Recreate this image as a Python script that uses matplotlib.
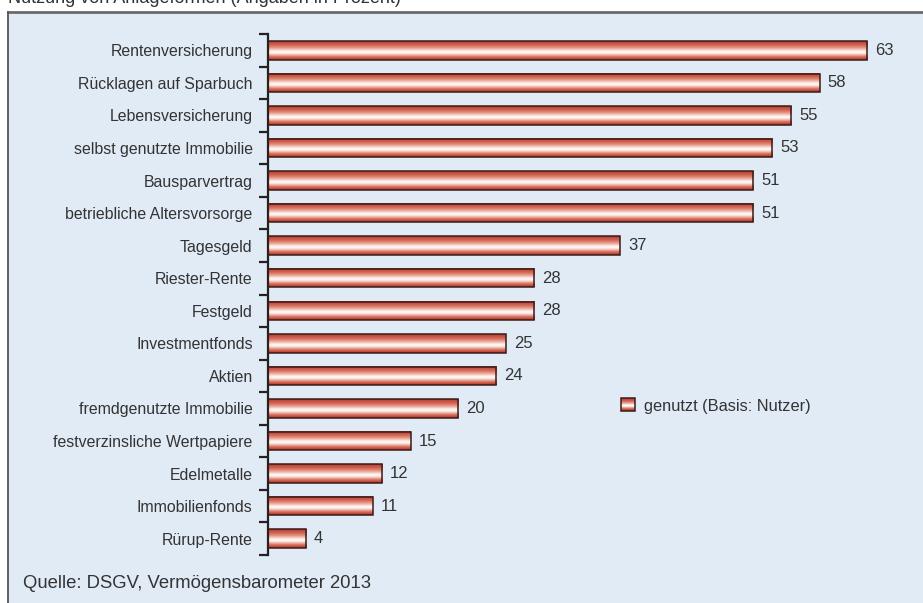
import numpy as np
import matplotlib
matplotlib.use("Agg")
import matplotlib.pyplot as plt
from matplotlib.colors import LinearSegmentedColormap
from matplotlib.patches import Rectangle
from matplotlib.legend_handler import HandlerBase

plt.rcParams['font.family'] = ['Liberation Sans', 'DejaVu Sans']

categories = ['Rentenversicherung', 'Rücklagen auf Sparbuch', 'Lebensversicherung',
              'selbst genutzte Immobilie', 'Bausparvertrag', 'betriebliche Altersvorsorge',
              'Tagesgeld', 'Riester-Rente', 'Festgeld', 'Investmentfonds', 'Aktien',
              'fremdgenutzte Immobilie', 'festverzinsliche Wertpapiere', 'Edelmetalle',
              'Immobilienfonds', 'Rürup-Rente']
values = [63, 58, 55, 53, 51, 51, 37, 28, 28, 25, 24, 20, 15, 12, 11, 4]
series_name = 'genutzt (Basis: Nutzer)'
source = 'Quelle: DSGV, Vermögensbarometer 2013'
title = 'Nutzung von Anlageformen (Angaben in Prozent)'

# bar shading, top to bottom
grad = ['#b23e30', '#c24c3c', '#cc5c4c', '#d87262', '#e4907f', '#f0b8aa', '#fae2da',
        '#ffffff', '#f8e0d8', '#eaa898', '#d87262', '#c8503f', '#a83424']
cmap = LinearSegmentedColormap.from_list('bar', grad)
edge = '#3a1c1a'
text_col = '#333333'

W, H = 923, 603
fig = plt.figure(figsize=(W / 100, H / 100), dpi=100)

# light blue panel with borders
fig.patches.append(Rectangle((8 / W, 0), 1, 1 - 12 / H, transform=fig.transFigure,
                             facecolor='#e1ebf6', edgecolor='none', zorder=-5))
fig.add_artist(plt.Line2D([8 / W, 1], [1 - 12 / H] * 2, transform=fig.transFigure,
                          color='#6a6a6a', lw=2, zorder=-4))
fig.add_artist(plt.Line2D([8 / W] * 2, [0, 1 - 12 / H], transform=fig.transFigure,
                          color='#555555', lw=1.3, zorder=-4))

ax = fig.add_axes([268 / W, 1 - 555 / H, (W - 268) / W, (555 - 34) / H])
ax.set_facecolor('none')

y = np.arange(len(categories))
h = 0.57
for yi, v in zip(y, values):
    ax.imshow(np.linspace(0, 1, 64).reshape(-1, 1), cmap=cmap, aspect='auto',
              extent=(0, v, yi + h / 2, yi - h / 2), origin='upper', zorder=2,
              interpolation='bilinear')
ax.barh(y, values, height=h, fill=False, edgecolor=edge, linewidth=1.1, zorder=3)
for yi, v in zip(y, values):
    ax.text(v + 0.85, yi, str(v), va='center', ha='left', fontsize=12, color=text_col)

ax.set_xlim(0, (W - 268) / 9.51)
ax.set_ylim(len(categories) - 0.5, -0.5)

for s in ['top', 'right', 'bottom']:
    ax.spines[s].set_visible(False)
ax.spines['left'].set_color('#222222')
ax.spines['left'].set_linewidth(1.6)
ax.set_xticks([])
ax.set_yticks(y)
ax.set_yticklabels(categories, fontsize=11.4, color=text_col)
ax.tick_params(axis='y', which='major', length=0, pad=11)
ax.set_yticks(np.arange(len(categories) + 1) - 0.5, minor=True)
ax.tick_params(axis='y', which='minor', length=6.5, width=1.6, color='#222222')


class GradHandler(HandlerBase):
    def create_artists(self, legend, orig, xd, yd, w, h, fs, trans):
        arts = []
        n = len(grad)
        for i, c in enumerate(grad):
            arts.append(Rectangle((xd, yd + h - (i + 1) * h / n), w, h / n,
                                  facecolor=c, edgecolor='none', transform=trans))
        arts.append(Rectangle((xd, yd), w, h, fill=False, edgecolor=edge,
                              lw=1.1, transform=trans))
        return arts


proxy = Rectangle((0, 0), 1, 1)
fig.legend([proxy], [series_name], handler_map={Rectangle: GradHandler()},
           loc='center left', bbox_to_anchor=(621 / W, 1 - 407 / H),
           bbox_transform=fig.transFigure, frameon=False, fontsize=11.8,
           borderpad=0, borderaxespad=0, handlelength=0.85, handleheight=0.8,
           handletextpad=0.55, labelcolor=text_col)

fig.text(23 / W, 1 - 583 / H, source, fontsize=13.3, color=text_col, va='center', ha='left')
fig.text(8 / W, 1 - 3 / H, title, fontsize=13, color=text_col, va='baseline', ha='left')

fig.savefig('out.png', dpi=100)
